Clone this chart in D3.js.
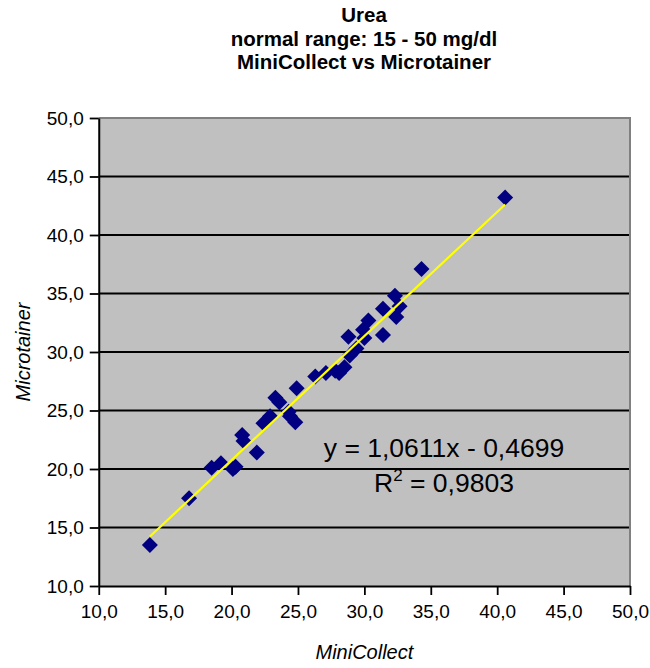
<!DOCTYPE html>
<html>
<head>
<meta charset="utf-8">
<script src="https://cdn.jsdelivr.net/npm/d3@7/dist/d3.min.js"></script>
<style>
  html, body { margin: 0; padding: 0; background: #ffffff; }
  svg { display: block; font-family: "Liberation Sans", Arial, sans-serif; }
</style>
</head>
<body>
<svg id="chart" width="650" height="668"></svg>
<script>
// ---- data ----
const titleLines = ["Urea", "normal range: 15 - 50 mg/dl", "MiniCollect vs Microtainer"];
const xLabel = "MiniCollect";
const yLabel = "Microtainer";
const miniCollect = [13.85, 16.8, 18.5, 19.2, 20.1, 20.3, 20.8, 20.9, 21.9, 22.4, 22.9, 23.3, 23.6, 24.3, 24.4, 24.8, 24.9, 26.3, 27.1, 27.8, 28.1, 28.5, 28.9, 29.4, 28.8, 29.9, 30.0, 30.3, 31.4, 31.4, 32.3, 32.65, 32.4, 34.3, 40.6];
const microtainer = [13.5, 17.5, 20.1, 20.5, 20.0, 20.2, 22.9, 22.4, 21.4, 23.9, 24.5, 26.1, 25.7, 24.9, 24.5, 24.0, 26.9, 27.9, 28.2, 28.4, 28.2, 28.7, 29.7, 30.3, 31.3, 31.9, 31.2, 32.7, 31.45, 33.7, 34.8, 33.9, 33.0, 37.1, 43.2];
const slope = 1.0611, intercept = -0.4699, r2 = 0.9803;
const axisTicks = [10, 15, 20, 25, 30, 35, 40, 45, 50];

// ---- layout ----
const svg = d3.select("#chart");
const pL = 98.75, pR = 630, pT = 118, pB = 586;
const x = d3.scaleLinear().domain([10, 50]).range([pL, pR]);
const y = d3.scaleLinear().domain([10, 50]).range([pB, pT]);
const loc = d3.formatLocale({decimal: ",", thousands: ".", grouping: [3], currency: ["", ""]});
const fmt1 = loc.format(".1f");
const fmt4 = loc.format(".4f");

// title
svg.append("g").selectAll("text").data(titleLines).join("text")
  .attr("x", 364).attr("y", (d, i) => 22 + i * 23.5)
  .attr("text-anchor", "middle")
  .attr("font-size", 20.5).attr("font-weight", "bold").attr("fill", "#000")
  .text(d => d);

// plot background
svg.append("rect").attr("x", pL).attr("y", pT)
  .attr("width", pR - pL).attr("height", pB - pT)
  .attr("fill", "#c0c0c0");

// gridlines
svg.append("g").selectAll("line").data(axisTicks.filter(t => t > 10 && t < 50)).join("line")
  .attr("x1", pL).attr("x2", pR)
  .attr("y1", d => y(d)).attr("y2", d => y(d))
  .attr("stroke", "#000").attr("stroke-width", 1.8);

// frame top/right
svg.append("path")
  .attr("d", `M${pL},${pT}H${pR}V${pB}`)
  .attr("fill", "none").attr("stroke", "#808080").attr("stroke-width", 2);

// axes
const xAxis = d3.axisBottom(x).tickValues(axisTicks).tickFormat(fmt1).tickSize(9).tickSizeOuter(0).tickPadding(6);
const yAxis = d3.axisLeft(y).tickValues(axisTicks).tickFormat(fmt1).tickSize(9).tickSizeOuter(0).tickPadding(6);
const gx = svg.append("g").attr("transform", `translate(0,${pB})`).call(xAxis);
const gy = svg.append("g").attr("transform", `translate(${pL},0)`).call(yAxis);
[gx, gy].forEach(g => {
  g.select(".domain").attr("stroke", "#000").attr("stroke-width", 2);
  g.selectAll(".tick line").attr("stroke", "#000").attr("stroke-width", 1.8);
  g.selectAll(".tick text").attr("fill", "#000").attr("font-size", 19)
    .attr("font-family", "Liberation Sans, Arial, sans-serif");
});
gx.selectAll(".tick text").attr("dy", "0.9em");

// axis titles
svg.append("text").attr("x", (pL + pR) / 2).attr("y", 659)
  .attr("text-anchor", "middle").attr("font-size", 20).attr("font-style", "italic")
  .attr("fill", "#000").text(xLabel);
svg.append("text").attr("transform", `translate(30,${(pT + pB) / 2}) rotate(-90)`)
  .attr("text-anchor", "middle").attr("font-size", 20).attr("font-style", "italic")
  .attr("fill", "#000").text(yLabel);

// points
const pts = miniCollect.map((v, i) => ({x: v, y: microtainer[i]}));
const diamond = d3.symbol().type(d3.symbolSquare).size(128);
svg.append("g").selectAll("path").data(pts).join("path")
  .attr("d", diamond)
  .attr("transform", d => `translate(${x(d.x)},${y(d.y)}) rotate(45)`)
  .attr("fill", "#000080");

// trend line
const xmin = d3.min(miniCollect), xmax = d3.max(miniCollect);
svg.append("line")
  .attr("x1", x(xmin)).attr("y1", y(slope * xmin + intercept))
  .attr("x2", x(xmax)).attr("y2", y(slope * xmax + intercept))
  .attr("stroke", "#ffff00").attr("stroke-width", 2.2);

// equation label
const eq = svg.append("g").attr("font-size", 26.5).attr("fill", "#000");
eq.append("text").attr("x", 444).attr("y", 457).attr("text-anchor", "middle")
  .text(`y = ${fmt4(slope)}x - ${fmt4(-intercept)}`);
const r2t = eq.append("text").attr("x", 444).attr("y", 492).attr("text-anchor", "middle");
r2t.append("tspan").text("R");
r2t.append("tspan").attr("dy", -11).attr("font-size", 17).text("2");
r2t.append("tspan").attr("dy", 11).text(` = ${fmt4(r2)}`);
</script>
</body>
</html>
